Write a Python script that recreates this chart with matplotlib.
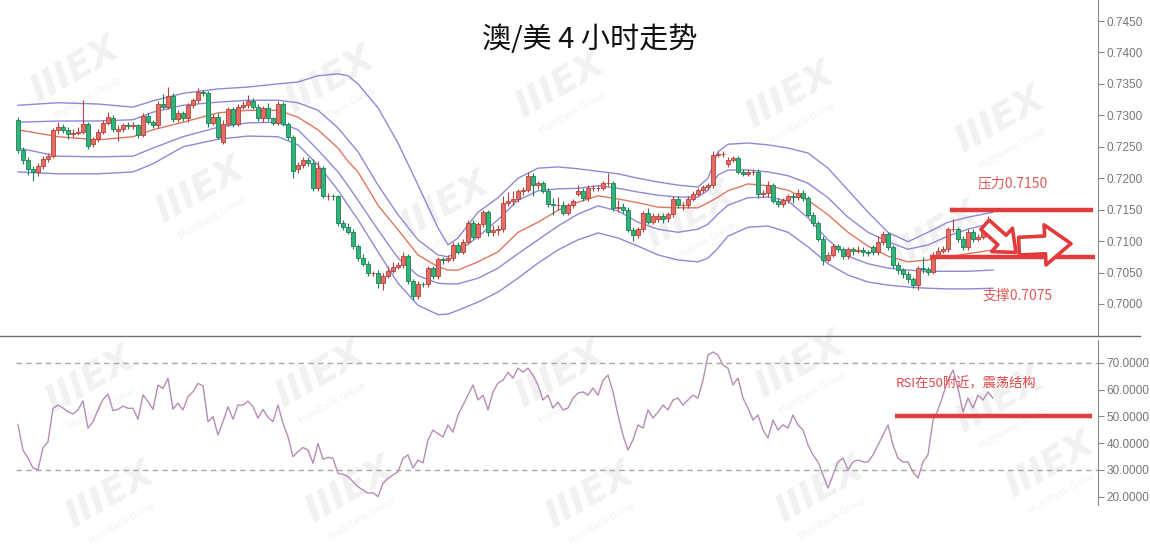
import matplotlib
matplotlib.use("Agg")
import matplotlib.pyplot as plt
import numpy as np

plt.rcParams['font.family'] = ['Noto Sans CJK SC', 'DejaVu Sans']

# ---------------- data ----------------
opens = [0.7293,0.7245,0.7229,0.7215,0.7210,0.7219,0.7231,0.7235,0.7276,0.7281,
         0.7277,0.7271,0.7272,0.7274,0.7287,0.7254,0.7262,0.7274,0.7288,0.7296,
         0.7275,0.7279,0.7284,0.7283,0.7284,0.7269,0.7299,0.7290,0.7285,0.7318,
         0.7314,0.7331,0.7294,0.7303,0.7295,0.7316,0.7324,0.7337,0.7335,0.7288,
         0.7298,0.7258,0.7287,0.7310,0.7287,0.7314,0.7316,0.7323,0.7314,0.7295,
         0.7311,0.7295,0.7288,0.7318,0.7287,0.7265,0.7215,0.7221,0.7229,0.7224,
         0.7184,0.7216,0.7171,0.7172,0.7171,0.7128,0.7123,0.7115,0.7092,0.7073,
         0.7064,0.7049,0.7050,0.7033,0.7045,0.7053,0.7059,0.7062,0.7076,0.7036,
         0.7012,0.7032,0.7031,0.7057,0.7044,0.7071,0.7070,0.7073,0.7094,0.7083,
         0.7099,0.7129,0.7107,0.7127,0.7146,0.7114,0.7118,0.7119,0.7160,0.7163,
         0.7167,0.7179,0.7182,0.7204,0.7189,0.7192,0.7180,0.7159,0.7157,0.7158,
         0.7145,0.7157,0.7175,0.7180,0.7168,0.7184,0.7184,0.7185,0.7192,0.7192,
         0.7152,0.7155,0.7150,0.7118,0.7110,0.7119,0.7144,0.7131,0.7135,0.7140,
         0.7137,0.7143,0.7167,0.7157,0.7157,0.7167,0.7175,0.7181,0.7186,0.7189,
         0.7237,0.7238,0.7223,0.7229,0.7232,0.7210,0.7207,0.7210,0.7210,0.7175,
         0.7176,0.7189,0.7164,0.7159,0.7165,0.7171,0.7170,0.7176,0.7168,0.7142,
         0.7128,0.7104,0.7070,0.7078,0.7092,0.7087,0.7076,0.7087,0.7085,0.7086,
         0.7082,0.7090,0.7082,0.7098,0.7111,0.7090,0.7062,0.7054,0.7048,0.7039,
         0.7030,0.7057,0.7055,0.7051,0.7078,0.7085,0.7087,0.7119,0.7119,0.7104,
         0.7090,0.7115,0.7103,0.7107,0.7115,0.7127]
closes = [0.7245,0.7229,0.7215,0.7210,0.7219,0.7231,0.7235,0.7276,0.7281,0.7277,
          0.7271,0.7272,0.7274,0.7286,0.7251,0.7262,0.7274,0.7288,0.7297,0.7278,
          0.7279,0.7284,0.7283,0.7284,0.7269,0.7299,0.7290,0.7284,0.7318,0.7314,
          0.7331,0.7294,0.7303,0.7295,0.7316,0.7324,0.7337,0.7335,0.7288,0.7298,
          0.7266,0.7287,0.7310,0.7287,0.7314,0.7316,0.7323,0.7314,0.7295,0.7311,
          0.7295,0.7288,0.7318,0.7287,0.7265,0.7212,0.7221,0.7229,0.7224,0.7184,
          0.7216,0.7171,0.7172,0.7171,0.7128,0.7123,0.7115,0.7092,0.7073,0.7064,
          0.7049,0.7050,0.7033,0.7045,0.7053,0.7059,0.7062,0.7076,0.7036,0.7012,
          0.7032,0.7031,0.7057,0.7044,0.7071,0.7070,0.7073,0.7094,0.7083,0.7099,
          0.7129,0.7107,0.7127,0.7146,0.7114,0.7118,0.7119,0.7160,0.7163,0.7167,
          0.7179,0.7182,0.7204,0.7189,0.7192,0.7180,0.7159,0.7157,0.7158,0.7145,
          0.7157,0.7163,0.7180,0.7168,0.7184,0.7184,0.7185,0.7192,0.7192,0.7152,
          0.7155,0.7150,0.7118,0.7110,0.7119,0.7144,0.7131,0.7140,0.7140,0.7135,
          0.7143,0.7167,0.7157,0.7157,0.7167,0.7175,0.7181,0.7186,0.7189,0.7237,
          0.7238,0.7239,0.7229,0.7232,0.7210,0.7207,0.7210,0.7210,0.7175,0.7176,
          0.7189,0.7164,0.7159,0.7165,0.7171,0.7170,0.7176,0.7168,0.7142,0.7128,
          0.7104,0.7070,0.7078,0.7092,0.7087,0.7076,0.7087,0.7085,0.7086,0.7082,
          0.7081,0.7082,0.7098,0.7111,0.7090,0.7062,0.7054,0.7048,0.7039,0.7030,
          0.7057,0.7055,0.7051,0.7078,0.7085,0.7087,0.7119,0.7119,0.7104,0.7090,
          0.7115,0.7103,0.7107,0.7115,0.7127,0.7115]
highs = [0.7298,0.7250,0.7233,0.7220,0.7224,0.7236,0.7240,0.7280,0.7290,0.7287,
         0.7282,0.7278,0.7281,0.7324,0.7290,0.7266,0.7278,0.7293,0.7306,0.7300,
         0.7284,0.7288,0.7289,0.7290,0.7287,0.7303,0.7303,0.7293,0.7322,0.7334,
         0.7345,0.7335,0.7308,0.7307,0.7320,0.7328,0.7344,0.7340,0.7338,0.7302,
         0.7303,0.7292,0.7314,0.7313,0.7318,0.7322,0.7332,0.7327,0.7318,0.7315,
         0.7320,0.7298,0.7322,0.7321,0.7290,0.7268,0.7226,0.7234,0.7233,0.7230,
         0.7228,0.7220,0.7176,0.7175,0.7174,0.7133,0.7128,0.7120,0.7096,0.7079,
         0.7068,0.7053,0.7054,0.7049,0.7060,0.7066,0.7067,0.7083,0.7080,0.7040,
         0.7036,0.7035,0.7061,0.7061,0.7075,0.7075,0.7078,0.7098,0.7099,0.7104,
         0.7133,0.7134,0.7131,0.7150,0.7150,0.7125,0.7126,0.7172,0.7178,0.7180,
         0.7183,0.7186,0.7210,0.7208,0.7196,0.7196,0.7184,0.7168,0.7170,0.7164,
         0.7161,0.7167,0.7190,0.7184,0.7190,0.7190,0.7190,0.7196,0.7208,0.7196,
         0.7165,0.7160,0.7154,0.7122,0.7123,0.7148,0.7152,0.7144,0.7144,0.7144,
         0.7147,0.7172,0.7171,0.7162,0.7172,0.7179,0.7185,0.7190,0.7193,0.7243,
         0.7242,0.7244,0.7233,0.7236,0.7236,0.7214,0.7214,0.7215,0.7214,0.7181,
         0.7195,0.7193,0.7168,0.7169,0.7175,0.7176,0.7183,0.7181,0.7172,0.7146,
         0.7132,0.7108,0.7083,0.7096,0.7096,0.7091,0.7091,0.7090,0.7092,0.7090,
         0.7086,0.7094,0.7108,0.7116,0.7115,0.7094,0.7066,0.7058,0.7052,0.7043,
         0.7061,0.7075,0.7059,0.7082,0.7090,0.7093,0.7123,0.7135,0.7123,0.7108,
         0.7119,0.7119,0.7112,0.7119,0.7140,0.7130]
lows = [0.7240,0.7222,0.7205,0.7195,0.7204,0.7214,0.7226,0.7232,0.7271,0.7272,
        0.7262,0.7266,0.7268,0.7270,0.7246,0.7250,0.7258,0.7270,0.7284,0.7274,
        0.7259,0.7274,0.7278,0.7278,0.7264,0.7266,0.7286,0.7280,0.7280,0.7310,
        0.7310,0.7290,0.7290,0.7291,0.7290,0.7312,0.7320,0.7331,0.7282,0.7284,
        0.7262,0.7254,0.7283,0.7282,0.7283,0.7310,0.7312,0.7310,0.7291,0.7290,
        0.7291,0.7284,0.7284,0.7283,0.7260,0.7200,0.7208,0.7216,0.7220,0.7180,
        0.7180,0.7168,0.7165,0.7166,0.7124,0.7117,0.7111,0.7088,0.7069,0.7060,
        0.7045,0.7044,0.7025,0.7022,0.7041,0.7049,0.7055,0.7058,0.7032,0.7006,
        0.7008,0.7027,0.7027,0.7040,0.7040,0.7063,0.7066,0.7069,0.7079,0.7079,
        0.7095,0.7103,0.7103,0.7122,0.7108,0.7108,0.7110,0.7115,0.7156,0.7158,
        0.7162,0.7174,0.7178,0.7172,0.7183,0.7176,0.7155,0.7142,0.7150,0.7141,
        0.7141,0.7153,0.7171,0.7163,0.7164,0.7180,0.7180,0.7181,0.7188,0.7148,
        0.7146,0.7145,0.7114,0.7100,0.7105,0.7115,0.7127,0.7127,0.7130,0.7128,
        0.7130,0.7139,0.7152,0.7150,0.7153,0.7163,0.7171,0.7177,0.7182,0.7185,
        0.7233,0.7234,0.7218,0.7225,0.7206,0.7203,0.7203,0.7205,0.7168,0.7170,
        0.7170,0.7160,0.7154,0.7155,0.7161,0.7160,0.7166,0.7164,0.7138,0.7124,
        0.7100,0.7062,0.7066,0.7074,0.7083,0.7072,0.7072,0.7078,0.7081,0.7077,
        0.7077,0.7078,0.7078,0.7094,0.7086,0.7058,0.7048,0.7042,0.7034,0.7025,
        0.7022,0.7050,0.7046,0.7047,0.7074,0.7081,0.7083,0.7114,0.7099,0.7086,
        0.7086,0.7099,0.7100,0.7103,0.7111,0.7111]

# band sample positions (candle index) and values
band_idx = [0, 8, 16, 23, 27, 33, 40, 46, 52, 56, 60, 64, 66, 68, 72, 76, 80, 84,
            86, 88, 92, 96, 100, 104, 108, 112, 116, 120, 124, 128, 132, 136, 138,
            140, 142, 146, 150, 154, 158, 162, 166, 170, 174, 178, 182, 186, 190, 195]
upper_outer = [0.7316,0.7320,0.7318,0.7313,0.7323,0.7335,0.7342,0.7345,0.7350,0.7353,
               0.7363,0.7366,0.7363,0.7350,0.7312,0.7256,0.7189,0.7121,0.7094,0.7105,
               0.7146,0.7169,0.7200,0.7216,0.7218,0.7215,0.7211,0.7207,0.7200,0.7194,
               0.7189,0.7186,0.7200,0.7242,0.7254,0.7256,0.7253,0.7248,0.7240,0.7216,
               0.7181,0.7146,0.7114,0.7099,0.7114,0.7130,0.7138,0.7146]
upper_inner = [0.7289,0.7291,0.7291,0.7293,0.7305,0.7316,0.7321,0.7324,0.7324,0.7320,
               0.7308,0.7280,0.7261,0.7242,0.7189,0.7142,0.7102,0.7078,0.7075,0.7083,
               0.7107,0.7134,0.7165,0.7180,0.7183,0.7184,0.7188,0.7184,0.7178,0.7173,
               0.7170,0.7170,0.7181,0.7205,0.7213,0.7213,0.7210,0.7204,0.7192,0.7169,
               0.7138,0.7114,0.7099,0.7087,0.7094,0.7108,0.7119,0.7129]
middle = [0.7277,0.7266,0.7261,0.7266,0.7277,0.7289,0.7304,0.7308,0.7308,0.7297,
          0.7277,0.7248,0.7227,0.7210,0.7157,0.7118,0.7078,0.7059,0.7054,0.7054,
          0.7067,0.7083,0.7114,0.7130,0.7149,0.7162,0.7172,0.7167,0.7161,0.7154,
          0.7153,0.7153,0.7161,0.7170,0.7180,0.7191,0.7188,0.7181,0.7165,0.7142,
          0.7114,0.7092,0.7076,0.7067,0.7070,0.7075,0.7080,0.7086]
lower_inner = [0.7248,0.7235,0.7234,0.7235,0.7248,0.7266,0.7281,0.7288,0.7289,0.7277,
               0.7245,0.7210,0.7188,0.7165,0.7118,0.7073,0.7045,0.7033,0.7032,0.7032,
               0.7041,0.7057,0.7080,0.7102,0.7124,0.7143,0.7156,0.7148,0.7130,0.7119,
               0.7114,0.7119,0.7127,0.7143,0.7157,0.7169,0.7170,0.7164,0.7137,0.7102,
               0.7076,0.7064,0.7057,0.7054,0.7052,0.7052,0.7052,0.7054]
lower_outer = [0.7210,0.7207,0.7207,0.7210,0.7223,0.7250,0.7262,0.7267,0.7266,0.7253,
               0.7221,0.7181,0.7157,0.7134,0.7083,0.7033,0.6998,0.6983,0.6984,0.6990,
               0.7003,0.7019,0.7041,0.7065,0.7086,0.7102,0.7113,0.7105,0.7092,0.7078,
               0.7070,0.7067,0.7073,0.7089,0.7108,0.7122,0.7124,0.7114,0.7091,0.7064,
               0.7046,0.7035,0.7030,0.7027,0.7025,0.7024,0.7024,0.7025]

rsi = [46.8,37.4,34.4,30.7,30.0,38.2,40.5,53.0,54.2,53.1,51.7,50.9,52.4,55.8,45.6,
       48.0,52.4,56.3,58.3,52.1,52.6,53.8,53.0,53.0,48.9,58.0,55.5,52.6,61.7,60.4,
       64.2,52.7,54.9,52.4,57.3,59.2,62.3,61.4,48.0,49.9,43.0,48.0,53.6,48.9,54.2,
       54.2,55.7,53.6,49.3,52.6,49.6,48.0,54.2,47.4,42.4,34.9,36.8,38.4,37.4,32.5,
       39.9,34.0,34.7,34.3,28.7,28.4,27.5,25.6,23.7,22.5,21.3,21.5,20.0,25.0,26.9,
       28.1,29.3,34.3,
       35.6,30.7,33.7,32.6,41.2,44.9,43.5,42.3,46.8,44.1,50.5,54.2,57.9,61.7,56.1,
       57.9,52.4,59.1,62.4,63.5,66.5,64.3,68.0,66.5,68.0,65.4,61.7,56.1,57.9,53.1,
       55.3,52.4,53.1,56.8,58.7,59.1,57.9,60.6,57.9,63.5,65.4,59.1,50.5,43.0,37.4,
       41.2,46.8,45.6,52.4,49.4,51.6,54.2,52.4,56.1,56.8,54.2,56.1,57.9,56.8,63.5,
       72.9,74.0,72.9,69.1,68.0,61.7,64.3,56.8,53.1,48.6,50.5,44.9,41.9,48.6,44.9,
       46.8,45.6,50.5,46.8,44.9,39.3,35.6,33.0,28.1,23.2,28.1,33.0,34.4,30.0,33.0,
       33.7,33.0,33.0,35.6,39.3,43.0,46.8,39.3,34.4,33.0,33.0,29.2,27.0,33.0,35.6,
       48.6,52.4,57.9,63.5,67.3,60.6,51.6,56.8,53.1,57.9,56.1,59.1,56.8]

price_ticks = [0.7000, 0.7050, 0.7100, 0.7150, 0.7200, 0.7250, 0.7300, 0.7350, 0.7400, 0.7450]
rsi_ticks = [20, 30, 40, 50, 60, 70]
resistance = 0.7150
support = 0.7075
rsi_mid = 50
title = "澳/美 4 小时走势"

# ---------------- figure ----------------
W, H = 1150, 557
fig = plt.figure(figsize=(W / 100, H / 100), dpi=100)
fig.patch.set_facecolor('white')

# watermarks (very faint, drawn beneath everything)
wm_pos = [(75, 70), (330, 80), (560, 85), (790, 95), (1000, 120), (200, 190),
          (445, 205), (690, 215), (935, 235), (90, 380), (320, 375), (560, 375),
          (800, 365), (1000, 400), (110, 495), (350, 490), (590, 495), (820, 490), (1050, 465)]
for (px, py) in wm_pos:
    fig.text(px / W, 1 - py / H, "IIIEX", fontsize=27, fontweight='bold', style='italic',
             color='#f1f1f1', rotation=30, ha='center', va='center', zorder=-10,
             family='DejaVu Sans')
    fig.text((px + 12) / W, 1 - (py + 28) / H, "MultiBank Group", fontsize=6.5,
             color='#f1f1f1', rotation=30, ha='center', va='center', zorder=-10,
             family='DejaVu Sans')

ax1 = fig.add_axes([0, 1 - 336 / H, 1098 / W, 336 / H])
ax2 = fig.add_axes([0, 1 - 505 / H, 1098 / W, 165 / H])
for ax in (ax1, ax2):
    ax.patch.set_alpha(0)
    ax.set_zorder(1)

N = len(closes)
x = np.arange(N)
xlim = (-3.6, 216)

up_fc, up_ec = '#e46c62', '#b8403a'
dn_fc, dn_ec = '#2fb57a', '#1d7f53'
band_c = '#8c8ad8'
mid_c = '#e0765e'

# bands
for vals in (upper_outer, upper_inner, lower_inner, lower_outer):
    ax1.plot(band_idx, vals, color=band_c, lw=1.0, zorder=2)
ax1.plot(band_idx, middle, color=mid_c, lw=1.0, zorder=2)

# candles
o = np.array(opens); c = np.array(closes); h = np.array(highs); l = np.array(lows)
up = c >= o
ax1.vlines(x, l, h, color=np.where(up, up_ec, dn_ec), lw=0.8, zorder=3)
body_lo = np.minimum(o, c)
body_h = np.maximum(np.abs(c - o), 0.00006)
ax1.bar(x[up], body_h[up], bottom=body_lo[up], width=0.72, color=up_fc,
        edgecolor=up_ec, linewidth=0.6, zorder=4)
ax1.bar(x[~up], body_h[~up], bottom=body_lo[~up], width=0.72, color=dn_fc,
        edgecolor=dn_ec, linewidth=0.6, zorder=4)

ax1.set_xlim(*xlim)
ax1.set_ylim(0.69491, 0.74834)

# axis styling
ax1.spines['left'].set_visible(False)
ax1.spines['top'].set_visible(False)
ax1.spines['bottom'].set_visible(False)
ax1.spines['right'].set_color('#8a8a8a')
ax1.set_xticks([])
ax1.yaxis.tick_right()
ax1.set_yticks(price_ticks)
ax1.set_yticklabels([f"{t:.4f}" for t in price_ticks])
ax1.tick_params(axis='y', colors='#8a8a8a', labelcolor='#777777', labelsize=8.5,
                length=4, width=0.8, pad=2)
for lab in ax1.get_yticklabels():
    lab.set_family('Liberation Sans')

# panel separator line
fig.add_artist(plt.Line2D([0, 1140 / W], [1 - 336 / H, 1 - 336 / H],
                          color='#6f6f6f', lw=1.0))

# resistance / support
red = '#e23b3b'
ax1.hlines(resistance, 186.4, 215.0, color=red, lw=3.2, zorder=6)
ax1.hlines(support, 182.4, 215.4, color=red, lw=3.2, zorder=6)
ax1.text(192.0, 0.7191, "压力0.7150", color='#e05a5a', fontsize=10, va='center', ha='left')
ax1.text(193.0, 0.7013, "支撑0.7075", color='#e05a5a', fontsize=10, va='center', ha='left')

arrow_small = dict(arrowstyle='simple,head_length=0.9,head_width=1.5,tail_width=0.6',
                   fc='white', ec=red, lw=2.6, mutation_scale=15, shrinkA=0, shrinkB=0)
ax1.annotate('', xy=(199.6, 0.7082), xytext=(193.4, 0.7126), arrowprops=arrow_small, zorder=7)
arrow_big = dict(arrowstyle='simple,head_length=1.1,head_width=1.7,tail_width=0.75',
                 fc='white', ec=red, lw=2.6, mutation_scale=17, shrinkA=0, shrinkB=0)
ax1.annotate('', xy=(210.6, 0.7096), xytext=(200.2, 0.7092), arrowprops=arrow_big, zorder=7)

# title
fig.text(590 / W, 1 - 40 / H, title, fontsize=21, ha='center', va='center', color='#111111')

# ---------------- RSI ----------------
ax2.plot(x, rsi, color='#b68cb6', lw=1.0, zorder=3)
ax2.hlines([70, 30], -0.5, xlim[1], colors='#a8a8a8', linestyles=(0, (4, 3)), lw=1.0, zorder=2)
ax2.hlines(rsi_mid, 175.4, 214.8, color=red, lw=3.2, zorder=5)
ax2.text(175.6, 62.0, "RSI在50附近，震荡结构", color='#e04848', fontsize=9.5, va='center',
         ha='left', zorder=6)
ax2.set_xlim(*xlim)
ax2.set_ylim(16.9, 78.5)
for s in ('left', 'top', 'bottom'):
    ax2.spines[s].set_visible(False)
ax2.spines['right'].set_color('#8a8a8a')
ax2.set_xticks([])
ax2.yaxis.tick_right()
ax2.set_yticks(rsi_ticks)
ax2.set_yticklabels([f"{t:.4f}" for t in rsi_ticks])
ax2.tick_params(axis='y', colors='#8a8a8a', labelcolor='#777777', labelsize=8.5,
                length=4, width=0.8, pad=2)
for lab in ax2.get_yticklabels():
    lab.set_family('Liberation Sans')

fig.savefig('out.png', dpi=100, facecolor='white')
